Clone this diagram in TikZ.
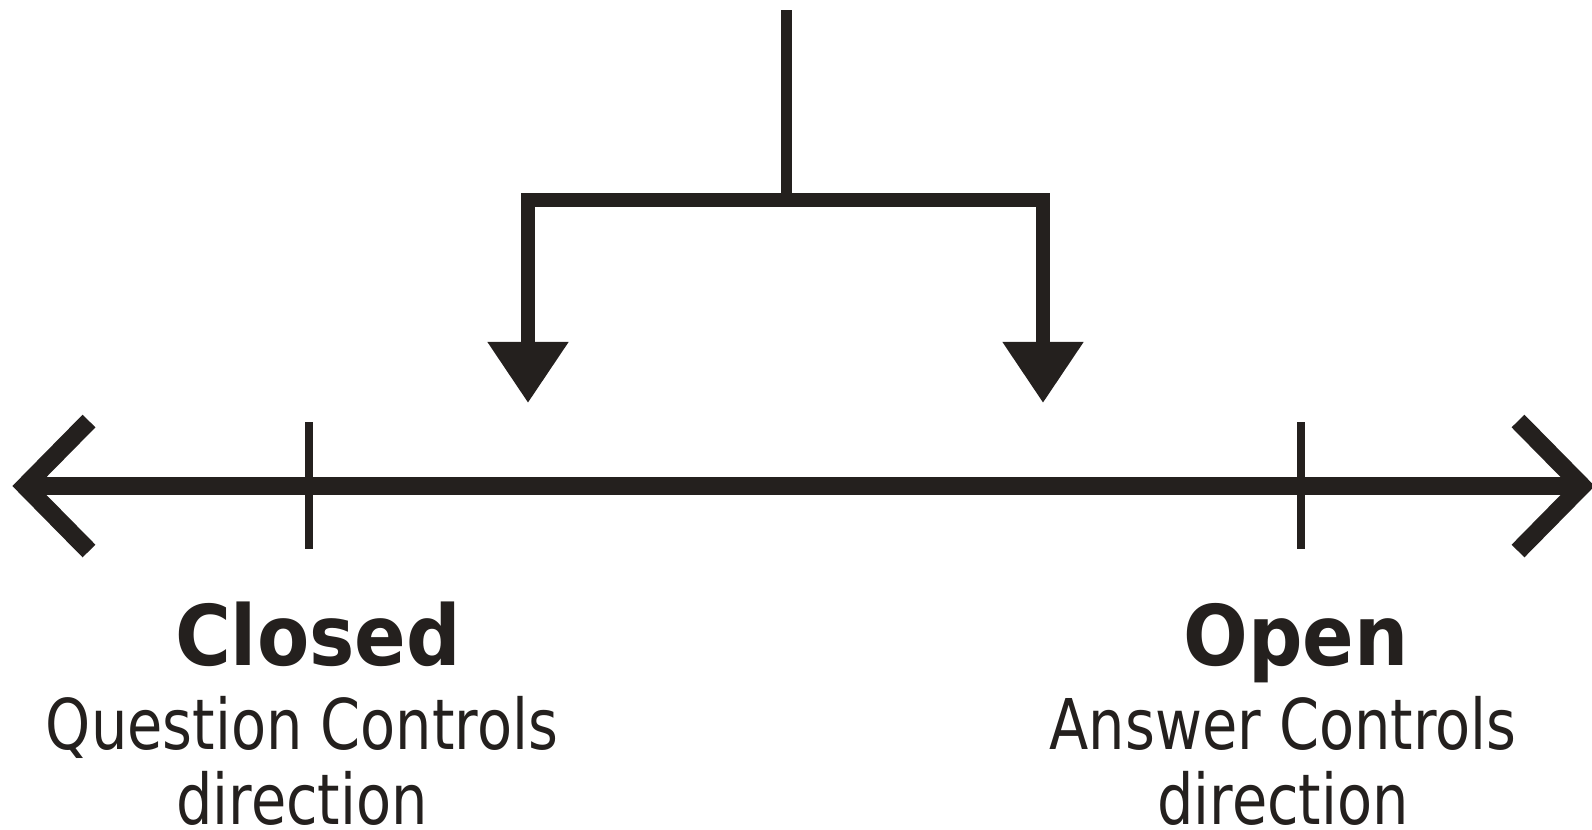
\documentclass[tikz,border=0pt]{standalone}
\usepackage{fontspec}
\setmainfont{DejaVu Sans}[FakeStretch=0.82, BoldFeatures={FakeStretch=0.91}]
\usepackage{tikz, xcolor}
\usetikzlibrary{arrows.meta,positioning}
\definecolor{ink}{RGB}{36,32,30}

\begin{document}
\begin{tikzpicture}[x=0.01cm, y=-0.01cm,
        axis/.style = {ink, line width=0.18cm, miter limit=4},
        tick/.style = {ink, line width=0.08cm},
        fork/.style = {ink, line width=0.145cm, arrows={Triangle[width=0.77cm, length=0.61cm]-Triangle[width=0.77cm, length=0.61cm]}},
        stem/.style = {ink, line width=0.11cm},
        title/.style = {ink, inner sep=0pt, anchor=base, font=\bfseries\fontsize{23.8}{28}\selectfont},
        desc/.style = {ink, inner sep=0pt, anchor=base, align=center, text depth=0pt, font=\fontsize{19.9}{21.3}\selectfont}]
    \useasboundingbox (0,0) rectangle (1592,829);
    % axis with open arrow heads
    \coordinate (leftend) at (25,486);
    \coordinate (rightend) at (1582,486);
    \draw[axis] (leftend) -- (rightend);
    \draw[axis] (89,421) -- (leftend) -- (89,551);
    \draw[axis] (1518,421) -- (rightend) -- (1518,551);
    % tick marks
    \coordinate (closedtop) at (309,422);
    \coordinate (closedbot) at (309,549);
    \coordinate (opentop) at (1301,422);
    \coordinate (openbot) at (1301,549);
    \draw[tick] (closedtop) -- (closedbot);
    \draw[tick] (opentop) -- (openbot);
    % fork from the top
    \coordinate (source) at (786,10);
    \coordinate (split) at (786,200);
    \coordinate (lefttip) at (528,403);
    \coordinate (righttip) at (1043,403);
    \draw[stem] (source) -- (split);
    \draw[fork] (lefttip) |- (split) -| (righttip);
    % labels
    \node[title] (closed) at (318,665) {Closed};
    \node[desc] (closeddesc) at (302,824) {Question Controls\\direction};
    \node[title] (open) at (1296,665) {Open};
    \node[desc] (opendesc) at (1283,824) {Answer Controls\\direction};
\end{tikzpicture}
\end{document}
